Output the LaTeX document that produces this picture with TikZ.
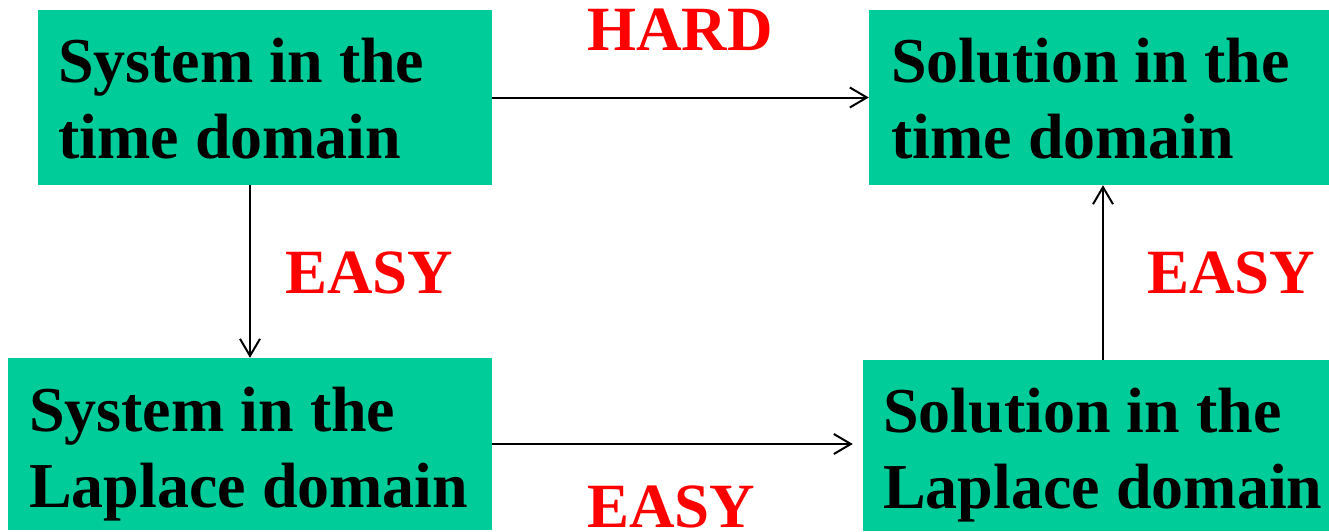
\documentclass[tikz,border=0pt]{standalone}
\usepackage{fontspec}
\setmainfont{Liberation Serif}
\usetikzlibrary{arrows.meta}
\definecolor{boxgreen}{HTML}{00CC99}
\definecolor{labred}{HTML}{FF0000}
\tikzset{
  box/.style={rectangle, fill=boxgreen, draw=none, inner sep=0pt},
  boxtext/.style={anchor=base west, align=left, inner sep=0pt, text=black,
    font=\fontsize{64}{76}\selectfont\bfseries},
  lab/.style={anchor=base west, inner sep=0pt, text=labred,
    font=\fontsize{63}{76}\selectfont\bfseries},
  arr/.style={draw=black, line width=2pt,
    -{Straight Barb[length=17pt,width=20pt,line width=2pt]}}
}
\begin{document}
\begin{tikzpicture}[x=1pt,y=-1pt]
\useasboundingbox (0,0) rectangle (1329,531);
% boxes
\node[box, minimum width=454pt, minimum height=175pt] (b1) at (265,97.5) {};
\node[box, minimum width=460pt, minimum height=175pt] (b2) at (1099,97.5) {};
\node[box, minimum width=484pt, minimum height=172pt] (b3) at (250,444) {};
\node[box, minimum width=466pt, minimum height=171pt] (b4) at (1096,445.5) {};
% box texts (base anchor = baseline of last line)
\node[boxtext] (t1) at (58,158) {System in the\\time domain};
\node[boxtext] (t2) at (891,158) {Solution in the\\time domain};
\node[boxtext] (t3) at (29,507) {System in the\\Laplace domain};
\node[boxtext] (t4) at (883,508) {Solution in the\\Laplace domain};
% labels
\node[lab] (hard) at (587,50) {HARD};
\node[lab] (easyl) at (285,293) {EASY};
\node[lab] (easyr) at (1147,293) {EASY};
\node[lab] (easyb) at (587,527) {EASY};
% connectors
\draw[arr] (b1.east) -- (b2.west);
\draw[arr] (b1.south -| b3.north) -- (b3.north);
\draw[arr, shorten >=10pt] (b3.east) -- (b3.east -| b4.west);
\draw[arr] ([xshift=7pt]b4.north) -- ([xshift=7pt]b4.north |- b2.south);
\end{tikzpicture}
\end{document}
